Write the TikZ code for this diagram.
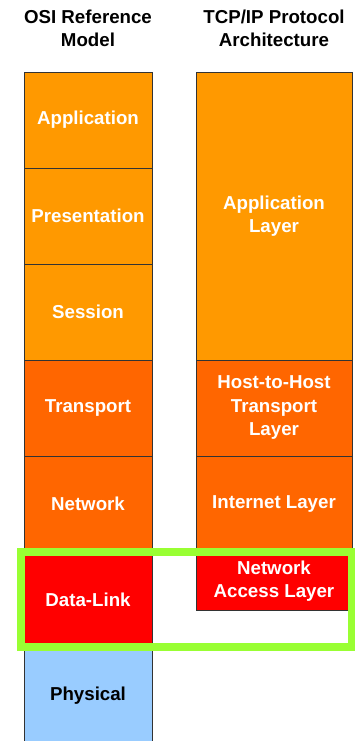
\documentclass[tikz,border=0pt]{standalone}
\usepackage{fontspec}
\setmainfont{Liberation Sans}
\usetikzlibrary{positioning}

\definecolor{lorange}{HTML}{FF9900}
\definecolor{dorange}{HTML}{FF6600}
\definecolor{lred}{HTML}{FF0000}
\definecolor{lblue}{HTML}{99CCFF}
\definecolor{lgreen}{HTML}{99FF33}

\begin{document}
\begin{tikzpicture}[
  x=1pt, y=-1pt,
  title/.style={align=center, font=\fontsize{18.7}{23.5}\selectfont\bfseries},
  layer/.style={draw=black!80, line width=0.9pt, align=center, inner sep=0pt,
                font=\fontsize{18.7}{23.5}\selectfont\bfseries, text=white},
  osi/.style={layer, minimum width=128pt, minimum height=96pt},
  tcp/.style={layer, minimum width=156pt},
  hilite/.style={draw=lgreen, line width=8pt},
]
  \useasboundingbox (0,0) rectangle (355,741);

  % Column headings
  \node[title] (tosi) at (88,28.5) {OSI Reference\\Model};
  \node[title] (ttcp) at (274,28.5) {TCP/IP Protocol\\Architecture};

  % OSI reference model
  \node[osi, fill=lorange] (app)  at (88,120) {Application};
  \node[osi, fill=lorange] (pres) at (88,216) {Presentation};
  \node[osi, fill=lorange] (sess) at (88,312) {Session};
  \node[osi, fill=dorange] (tran) at (88,408) {Transport};
  \node[osi, fill=dorange] (net)  at (88,504) {Network};
  \node[osi, fill=lred]    (dl)   at (88,600) {Data-Link};
  \node[osi, fill=lblue, text=black] (phy) at (88,696) {Physical};

  % TCP/IP protocol architecture
  \node[tcp, fill=lorange, minimum height=288pt] (tapp) at (274,216) {Application\\Layer};
  \node[tcp, fill=dorange, minimum height=96pt]  (thost) at (274,408) {Host-to-Host\\Transport\\Layer};
  \node[tcp, fill=dorange, minimum height=96pt]  (tnet) at (274,504) {Internet Layer};
  \node[tcp, fill=lred, minimum height=58pt]     (tacc) at (274,581) {Network\\Access Layer};

  % Highlight of the link level
  \coordinate (hl1) at (21,552);
  \coordinate (hl2) at (352,647);
  \draw[hilite] (hl1) rectangle (hl2);
\end{tikzpicture}
\end{document}
